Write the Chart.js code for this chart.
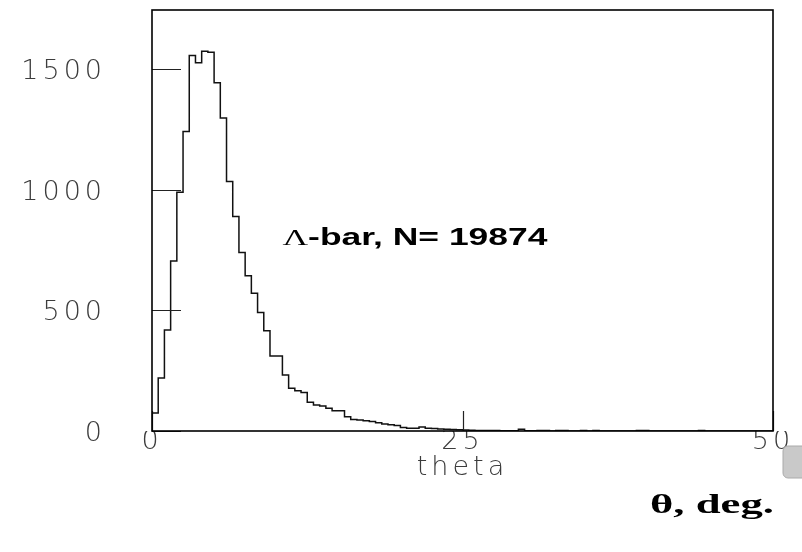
<!DOCTYPE html>
<html>
<head>
<meta charset="utf-8">
<script src="https://cdn.jsdelivr.net/npm/chart.js@4.4.1/dist/chart.umd.min.js"></script>
<style>
  html, body { margin: 0; padding: 0; background: #fff; }
  #wrap { width: 802px; height: 552px; position: relative; }
</style>
</head>
<body>
<div id="wrap"><canvas id="myChart"></canvas></div>
<script>
// theta histogram, 0.5 deg bins from 0 to 50
var binWidth = 0.5;
var counts = [
  75, 220, 419, 705, 990, 1241, 1556, 1526, 1574, 1570,
  1443, 1297, 1034, 889, 740, 643, 571, 491, 416, 311,
  311, 232, 177, 167, 160, 119, 108, 104, 94, 84,
  84, 59, 48, 46, 43, 39, 34, 29, 26, 23,
  15, 11, 11, 17, 11, 10, 8, 7, 6, 5,
  4, 3, 2, 2, 2, 2, 1, 1, 1, 7,
  1, 1, 2, 2, 0, 2, 2, 0, 0, 2,
  0, 2, 0, 0, 0, 0, 0, 0, 2, 2,
  0, 0, 0, 0, 0, 0, 0, 0, 2, 0,
  0, 0, 0, 0, 0, 0, 0, 0, 0, 0
];
var xTicks = [0, 25, 50];
var yTicks = [0, 500, 1000, 1500];
var xMax = 50;
var yMax = 1745;
var xTitle = "theta";
var unitLabel = "\u03b8, deg.";
var histName = "\u039b";
var histInfo = "-bar, N= 19874";
var infoPos = { x: 10.5, y: 772 };

// bin left edges -> step points, closing point at the right edge
var points = [];
for (var i = 0; i < counts.length; i++) {
  points.push({ x: i * binWidth, y: counts[i] });
}
points.push({ x: counts.length * binWidth, y: 0 });

var tickFont = { family: "DejaVu Sans", size: 27, weight: "200" };

// text stretched to a given width
function wideText(ctx, parts, x, y, width) {
  var total = 0;
  parts.forEach(function (p) {
    ctx.font = p.font;
    total += ctx.measureText(p.text).width;
  });
  var sx = width / total;
  ctx.save();
  ctx.translate(x, y);
  ctx.scale(sx, 1);
  var cx = 0;
  parts.forEach(function (p) {
    ctx.font = p.font;
    ctx.fillText(p.text, cx, 0);
    cx += ctx.measureText(p.text).width;
  });
  ctx.restore();
}

var frameAndText = {
  id: "frameAndText",
  beforeDraw: function (chart) {
    chart.ctx.letterSpacing = "4px";
  },
  afterDraw: function (chart) {
    var ctx = chart.ctx;
    var a = chart.chartArea;
    var xs = chart.scales.x;
    var ys = chart.scales.y;
    ctx.save();
    ctx.letterSpacing = "0px";

    // short ticks inside the frame
    ctx.strokeStyle = "#222";
    ctx.lineWidth = 1.2;
    ctx.beginPath();
    yTicks.forEach(function (v) {
      var y = Math.round(ys.getPixelForValue(v)) + 0.5;
      ctx.moveTo(a.left, y);
      ctx.lineTo(a.left + 29, y);
    });
    xTicks.forEach(function (v) {
      var x = Math.round(xs.getPixelForValue(v)) + 0.5;
      ctx.moveTo(x, a.bottom);
      ctx.lineTo(x, a.bottom - 20);
    });
    ctx.stroke();

    // frame
    ctx.strokeStyle = "#000";
    ctx.lineWidth = 1.6;
    ctx.strokeRect(a.left, a.top, a.right - a.left, a.bottom - a.top);

    // histogram caption
    ctx.fillStyle = "#000";
    ctx.textBaseline = "alphabetic";
    ctx.textAlign = "left";
    wideText(ctx, [
      { text: histName, font: "24px 'Liberation Serif'" },
      { text: histInfo, font: "bold 24px 'Liberation Sans'" }
    ], xs.getPixelForValue(infoPos.x), ys.getPixelForValue(infoPos.y), 265);

    // unit label under the axis
    wideText(ctx, [{ text: unitLabel, font: "bold 28px 'Liberation Serif'" }], 650, 513, 124);

    // grey handle at the right edge
    ctx.fillStyle = "#c9c9c9";
    ctx.strokeStyle = "#aaa";
    ctx.lineWidth = 1;
    ctx.beginPath();
    ctx.roundRect(783, 446, 26, 32, 5);
    ctx.fill();
    ctx.stroke();
    ctx.restore();
  }
};

var ctx = document.getElementById("myChart").getContext("2d");
var myChart = new Chart(ctx, {
  type: "line",
  data: {
    datasets: [
      {
        data: points,
        stepped: true,
        borderColor: "#111",
        borderWidth: 1.5,
        pointRadius: 0,
        fill: false,
      },
    ],
  },
  options: {
    responsive: true,
    maintainAspectRatio: false,
    animation: false,
    layout: { padding: { top: 10, right: 29, left: 0, bottom: 0 } },
    plugins: {
      legend: { display: false },
      tooltip: { enabled: false },
    },
    scales: {
      x: {
        type: "linear",
        min: 0,
        max: xMax,
        grid: { display: false, drawTicks: false },
        border: { display: false },
        afterBuildTicks: function (s) {
          s.ticks = xTicks.map(function (v) { return { value: v }; });
        },
        afterFit: function (s) { s.height = 121; },
        ticks: {
          color: "#3c3c3c",
          font: tickFont,
          padding: -5,
          maxRotation: 0,
          callback: function (v) { return String(v); },
        },
        title: {
          display: true,
          text: xTitle,
          color: "#3c3c3c",
          font: tickFont,
          padding: { top: 0, bottom: 68 },
        },
      },
      y: {
        min: 0,
        max: yMax,
        grid: {
          display: true,
          drawOnChartArea: false,
          drawTicks: true,
          tickLength: 46,
          tickColor: "rgba(0,0,0,0)",
        },
        border: { display: false },
        afterBuildTicks: function (s) {
          s.ticks = yTicks.map(function (v) { return { value: v }; });
        },
        afterFit: function (s) {
          s.width = 152;
          s.paddingTop = 0;
          s.paddingBottom = 0;
        },
        ticks: {
          color: "#3c3c3c",
          font: tickFont,
          padding: 0,
          labelOffset: 3,
          callback: function (v) { return String(v); },
        },
      },
    },
  },
  plugins: [frameAndText],
});
</script>
</body>
</html>
